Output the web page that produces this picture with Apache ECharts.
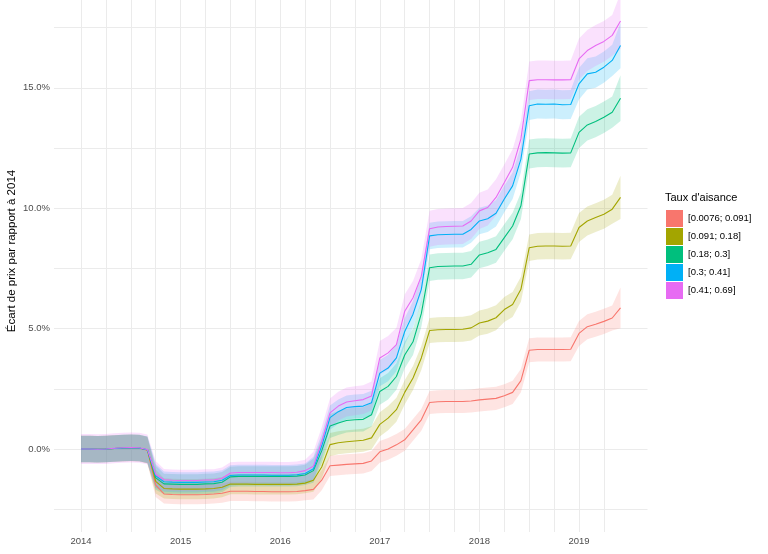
<!DOCTYPE html>
<html><head><meta charset="utf-8">
<script src="https://cdn.jsdelivr.net/npm/echarts@6/dist/echarts.min.js"></script>
<style>html,body{margin:0;padding:0;background:#fff}#c{width:768px;height:554px}</style>
</head><body><div id="c"></div>
<script>
const months = ['2014-01','2014-02','2014-03','2014-04','2014-05','2014-06','2014-07','2014-08','2014-09','2014-10','2014-11','2014-12',
'2015-01','2015-02','2015-03','2015-04','2015-05','2015-06','2015-07','2015-08','2015-09','2015-10','2015-11','2015-12',
'2016-01','2016-02','2016-03','2016-04','2016-05','2016-06','2016-07','2016-08','2016-09','2016-10','2016-11','2016-12',
'2017-01','2017-02','2017-03','2017-04','2017-05','2017-06','2017-07','2017-08','2017-09','2017-10','2017-11','2017-12',
'2018-01','2018-02','2018-03','2018-04','2018-05','2018-06','2018-07','2018-08','2018-09','2018-10','2018-11','2018-12',
'2019-01','2019-02','2019-03','2019-04','2019-05','2019-06'];

const groups = ['[0.0076; 0.091]','[0.091; 0.18]','[0.18; 0.3]','[0.3; 0.41]','[0.41; 0.69]'];
const colors = ['#F8766D','#A3A500','#00BF7D','#00B0F6','#E76BF3'];

const valRed = [0.00,0.00,-0.01,0.00,0.02,0.03,0.04,0.03,-0.05,-1.50,-1.87,-1.89,
-1.90,-1.90,-1.90,-1.89,-1.87,-1.84,-1.76,-1.76,-1.76,-1.77,-1.77,-1.78,
-1.78,-1.78,-1.77,-1.73,-1.68,-1.30,-0.70,-0.67,-0.64,-0.62,-0.60,-0.50,
-0.12,0.00,0.17,0.38,0.79,1.21,1.93,1.96,1.97,1.97,1.97,1.99,
2.04,2.07,2.10,2.21,2.35,2.84,4.10,4.13,4.13,4.13,4.13,4.14,
4.80,5.08,5.18,5.30,5.44,5.86];
const valOlive = [0.00,0.00,-0.01,0.00,0.02,0.04,0.05,0.04,-0.04,-1.35,-1.64,-1.66,
-1.67,-1.67,-1.67,-1.66,-1.64,-1.59,-1.46,-1.46,-1.46,-1.47,-1.47,-1.47,
-1.47,-1.47,-1.46,-1.42,-1.30,-0.75,0.18,0.26,0.30,0.33,0.36,0.46,
1.02,1.28,1.63,2.35,2.95,3.78,4.92,4.95,4.96,4.96,4.97,5.03,
5.23,5.31,5.45,5.79,6.00,6.63,8.36,8.42,8.43,8.43,8.42,8.43,
9.20,9.47,9.61,9.75,9.96,10.45];
const valGreen = [0.00,0.00,-0.01,0.00,0.02,0.04,0.05,0.04,-0.03,-1.20,-1.45,-1.46,
-1.47,-1.47,-1.47,-1.45,-1.44,-1.38,-1.16,-1.14,-1.14,-1.14,-1.14,-1.14,
-1.14,-1.14,-1.13,-1.08,-0.90,-0.08,0.95,1.08,1.18,1.21,1.23,1.42,
2.39,2.60,3.01,3.90,4.45,5.62,7.53,7.58,7.59,7.60,7.60,7.67,
8.06,8.15,8.29,8.78,9.26,10.10,12.25,12.30,12.31,12.30,12.29,12.30,
13.15,13.46,13.60,13.78,13.99,14.57];
const valBlue = [0.00,0.00,-0.01,0.00,0.02,0.04,0.05,0.04,-0.03,-1.12,-1.36,-1.38,
-1.39,-1.39,-1.39,-1.37,-1.36,-1.30,-1.10,-1.08,-1.08,-1.08,-1.08,-1.09,
-1.09,-1.09,-1.07,-1.02,-0.82,0.12,1.30,1.55,1.72,1.76,1.78,1.92,
3.15,3.36,3.78,4.88,5.60,6.63,8.85,8.90,8.91,8.92,8.92,9.12,
9.47,9.56,9.79,10.38,10.93,12.04,14.26,14.33,14.32,14.33,14.30,14.31,
15.17,15.58,15.65,15.86,16.14,16.76];
const valPink = [0.00,0.00,-0.01,0.00,0.03,0.05,0.06,0.05,-0.02,-1.05,-1.28,-1.30,
-1.31,-1.31,-1.31,-1.29,-1.29,-1.22,-1.00,-0.98,-0.98,-0.98,-0.98,-0.98,
-0.99,-0.99,-0.97,-0.90,-0.72,0.30,1.50,1.78,1.95,2.00,2.05,2.20,
3.78,3.99,4.33,5.72,6.28,7.18,9.15,9.22,9.24,9.25,9.26,9.47,
9.89,10.03,10.45,11.07,11.70,12.88,15.30,15.34,15.34,15.33,15.33,15.34,
16.20,16.55,16.76,16.93,17.18,17.78];

// half-width of the confidence ribbon (percentage points)
const ciRed = [0.55,0.55,0.55,0.55,0.55,0.55,0.55,0.55,0.55,0.50,0.40,0.40,
0.40,0.40,0.40,0.40,0.40,0.40,0.40,0.40,0.40,0.40,0.40,0.40,
0.40,0.40,0.40,0.40,0.42,0.42,0.42,0.42,0.42,0.42,0.42,0.42,
0.45,0.45,0.45,0.45,0.45,0.45,0.48,0.48,0.48,0.48,0.48,0.48,
0.48,0.48,0.48,0.48,0.48,0.48,0.50,0.50,0.50,0.50,0.50,0.50,
0.52,0.52,0.52,0.52,0.52,0.85];
const ciOlive = [0.55,0.55,0.55,0.55,0.55,0.55,0.55,0.55,0.55,0.50,0.42,0.42,
0.42,0.42,0.42,0.42,0.42,0.42,0.42,0.42,0.42,0.42,0.42,0.42,
0.42,0.42,0.42,0.42,0.48,0.48,0.48,0.48,0.48,0.48,0.48,0.48,
0.50,0.50,0.50,0.50,0.50,0.50,0.52,0.52,0.52,0.52,0.52,0.52,
0.52,0.52,0.52,0.52,0.52,0.52,0.55,0.55,0.55,0.55,0.55,0.55,
0.60,0.60,0.60,0.60,0.60,0.90];
const ciGreen = [0.55,0.55,0.55,0.55,0.55,0.55,0.55,0.55,0.55,0.50,0.42,0.42,
0.42,0.42,0.42,0.42,0.42,0.42,0.42,0.42,0.42,0.42,0.42,0.42,
0.42,0.42,0.42,0.42,0.50,0.50,0.50,0.50,0.50,0.50,0.50,0.50,
0.55,0.55,0.55,0.55,0.55,0.55,0.55,0.55,0.55,0.55,0.55,0.55,
0.55,0.55,0.55,0.55,0.55,0.55,0.60,0.60,0.60,0.60,0.60,0.60,
0.65,0.65,0.65,0.65,0.65,0.95];
const ciBlue = [0.55,0.55,0.55,0.55,0.55,0.55,0.55,0.55,0.55,0.50,0.42,0.42,
0.42,0.42,0.42,0.42,0.42,0.42,0.42,0.42,0.42,0.42,0.42,0.42,
0.42,0.42,0.42,0.42,0.50,0.50,0.50,0.50,0.50,0.50,0.50,0.50,
0.55,0.55,0.55,0.55,0.55,0.55,0.55,0.55,0.55,0.55,0.55,0.55,
0.55,0.55,0.55,0.55,0.55,0.55,0.60,0.60,0.60,0.60,0.60,0.60,
0.65,0.65,0.65,0.65,0.65,0.95];
const ciPink = [0.62,0.62,0.62,0.62,0.62,0.62,0.62,0.62,0.62,0.55,0.45,0.45,
0.45,0.45,0.45,0.45,0.45,0.45,0.45,0.45,0.45,0.45,0.45,0.45,
0.45,0.45,0.45,0.45,0.60,0.60,0.60,0.60,0.60,0.60,0.60,0.60,
0.70,0.70,0.70,0.70,0.70,0.70,0.75,0.75,0.75,0.75,0.75,0.75,
0.75,0.75,0.75,0.75,0.75,0.75,0.80,0.80,0.80,0.80,0.80,0.80,
0.85,0.85,0.85,0.85,0.85,1.15];

const xGridTicks = [2014,2014.25,2014.5,2014.75,2015,2015.25,2015.5,2015.75,2016,2016.25,2016.5,2016.75,
2017,2017.25,2017.5,2017.75,2018,2018.25,2018.5,2018.75,2019,2019.25];
const xLabelTicks = [2014,2015,2016,2017,2018,2019];
const yGridTicks = [-2.5,0,2.5,5,7.5,10,12.5,15,17.5];
const yLabelTicks = [0,5,10,15];

const allVals = [valRed, valOlive, valGreen, valBlue, valPink];
const allCi = [ciRed, ciOlive, ciGreen, ciBlue, ciPink];

function toX(m) { const p = m.split('-'); return +p[0] + (+p[1] - 1) / 12; }
const xs = months.map(toX);

const bandSeries = [], lineSeries = [];
groups.forEach((g, i) => {
  const v = allVals[i], c = allCi[i];
  const rows = xs.map((x, k) => [x, v[k] - c[k], v[k] + c[k]]);
  bandSeries.push({
    type: 'custom', name: 'ribbon' + i, z: 1, silent: true, clip: true,
    data: rows,
    encode: { x: 0, y: [1, 2] },
    renderItem: function (params, api) {
      if (params.dataIndex !== 0) return null;
      const pts = [];
      for (let k = 0; k < rows.length; k++) pts.push(api.coord([rows[k][0], rows[k][1]]));
      for (let k = rows.length - 1; k >= 0; k--) pts.push(api.coord([rows[k][0], rows[k][2]]));
      return { type: 'polygon', shape: { points: pts }, style: { fill: colors[i], opacity: 0.2 } };
    }
  });
  lineSeries.push({
    type: 'line', name: g, z: 3, symbol: 'none',
    itemStyle: { color: colors[i] },
    lineStyle: { color: colors[i], width: 1.1 },
    data: xs.map((x, k) => [x, v[k]])
  });
});

const chart = echarts.init(document.getElementById('c'), null, { renderer: 'canvas' });
chart.setOption({
  animation: false,
  backgroundColor: '#ffffff',
  textStyle: { fontFamily: 'Liberation Sans, Arial, sans-serif' },
  title: {
    text: "Taux d'aisance", left: 665, top: 192, padding: 0,
    textStyle: { fontSize: 11, fontWeight: 'normal', color: '#000', fontFamily: 'Liberation Sans' }
  },
  legend: {
    data: groups, left: 666, top: 210, orient: 'vertical', padding: 0,
    itemWidth: 17, itemHeight: 17, itemGap: 1, icon: 'rect',
    textStyle: { fontSize: 9.5, color: '#000', fontFamily: 'Liberation Sans' }
  },
  graphic: [{
    type: 'text', x: 12, y: 251, rotation: Math.PI / 2,
    style: { text: 'Écart de prix par rapport à 2014', fontSize: 11.5, fill: '#000', fontFamily: 'Liberation Sans', align: 'center', verticalAlign: 'middle' }
  }],
  grid: { left: 54, right: 120.5, top: 0, bottom: 22, outerBoundsMode: 'none', containLabel: false },
  xAxis: {
    type: 'value', min: 2013.729, max: 2019.6875,
    axisLine: { show: false },
    axisTick: { show: false, customValues: xGridTicks },
    axisLabel: { customValues: xLabelTicks, formatter: v => String(Math.round(v)), color: '#4D4D4D', fontSize: 9.5, margin: 4, fontFamily: 'Liberation Sans' },
    splitLine: { show: true, lineStyle: { color: '#EBEBEB', width: 1 } }
  },
  yAxis: {
    type: 'value', min: -3.45, max: 18.65,
    axisLine: { show: false },
    axisTick: { show: false, customValues: yGridTicks },
    axisLabel: { customValues: yLabelTicks, formatter: v => v.toFixed(1) + '%', color: '#4D4D4D', fontSize: 9.5, margin: 4, fontFamily: 'Liberation Sans' },
    splitLine: { show: true, lineStyle: { color: '#EBEBEB', width: 1 } }
  },
  series: bandSeries.concat(lineSeries)
});
</script>
</body></html>
